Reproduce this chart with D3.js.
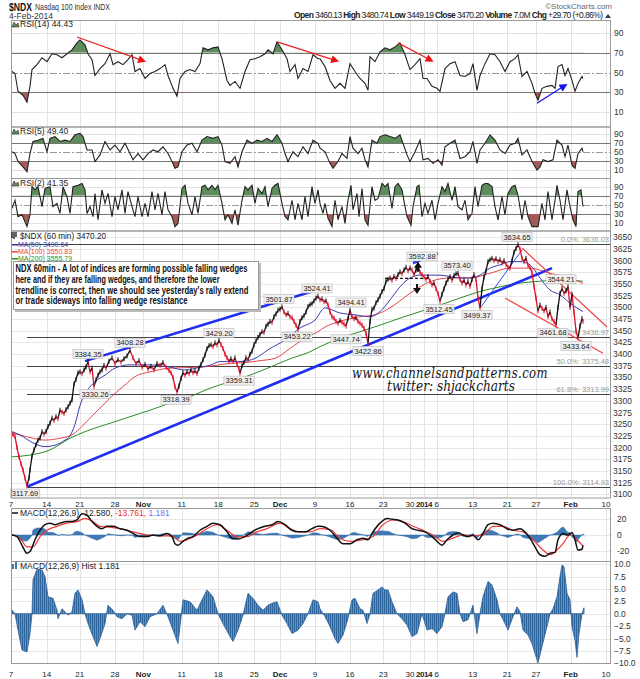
<!DOCTYPE html>
<html><head><meta charset="utf-8">
<script src="https://cdnjs.cloudflare.com/ajax/libs/d3/7.8.5/d3.min.js"></script>
<style>
html,body{margin:0;padding:0;background:#fff;}
</style></head><body>
<svg id="chart" width="640" height="679" font-family="Liberation Sans, Arial, sans-serif"></svg>
<script>
// ---------------- DATA (bar = hourly bar index since 7 Oct 2013) ----------------
const dateTickLabels=["7","14","21","28","Nov","11","18","25","Dec","9","16","23","30","2014","6","13","21","27","Feb","10"];
const dateTickBars=[0,35.7,68.7,104,132.3,170.7,207.3,243.3,269,304,339,372.3,399,413,425.7,461.7,496.3,525,559.7,595];
const boldTickLabels=["Nov","Dec","2014","Feb"];

const priceBars=[0,2,4,6,8,10,12,14,16,18,19,21,23,25,27,29,31,33,35,37,39,41,43,45,47,49,51,53,55,57,59,61,63,65,67,69,71,73,75,77,79,81,83,85,87,89,91,93,95,98,101,104,107,110,113,116,119,122,125,128,131,134,137,140,143,146,149,152,155,158,160,162,164,166,168,170,172,174,176,178,180,182,184,186,188,190,192,194,196,198,200,202,204,206,208,210,212,214,216,218,220,222,224,226,228,229,231,233,235,237,239,241,243,245,247,249,251,253,255,257,259,261,263,265,267,269,271,273,275,277,279,281,283,285,287,289,291,293,295,297,299,301,303,305,307,309,311,313,315,317,319,321,323,325,327,329,331,333,335,337,339,341,343,345,347,349,351,353,355,357,359,361,363,365,367,369,371,373,375,377,379,381,383,385,387,389,391,393,395,397,399,401,403,405,407,409,411,413,415,417,419,421,423,425,427,429,431,433,435,437,439,441,443,445,447,449,451,453,455,457,459,461,463,465,467,469,471,473,475,477,479,481,483,485,487,489,491,493,495,497,499,501,503,505,507,509,511,513,515,517,519,521,523,525,527,529,531,533,535,537,539,541,543,545,547,549,551,553,555,557,559,561,563,565,567,569,571,572];
const priceVals=[3232,3228,3224,3200,3180,3165,3152,3135,3118,3135,3152,3182,3195,3206,3216,3220,3234,3229,3234,3245,3252,3263,3258,3266,3262,3280,3276,3273,3281,3287,3295,3302,3336,3346,3360,3362,3358,3366,3372,3384,3362,3370,3331,3345,3355,3362,3366,3376,3370,3385,3392,3380,3388,3383,3390,3396,3408,3392,3380,3386,3372,3378,3368,3374,3366,3380,3376,3382,3372,3365,3360,3350,3330,3319,3332,3348,3360,3355,3362,3358,3366,3360,3364,3358,3370,3378,3388,3398,3412,3418,3420,3416,3424,3420,3429,3420,3412,3400,3392,3385,3390,3384,3392,3378,3368,3359,3375,3382,3392,3388,3400,3406,3420,3428,3436,3442,3448,3446,3460,3464,3470,3468,3480,3486,3494,3496,3501,3490,3484,3487,3480,3478,3470,3462,3453,3470,3478,3482,3490,3502,3506,3508,3514,3520,3524,3516,3518,3512,3514,3505,3490,3480,3477,3470,3466,3472,3468,3464,3460,3476,3494,3480,3476,3478,3470,3466,3462,3455,3445,3423,3470,3496,3498,3510,3516,3524,3534,3540,3556,3560,3563,3558,3566,3562,3570,3576,3572,3580,3586,3578,3584,3580,3570,3580,3593,3575,3570,3565,3560,3566,3556,3548,3552,3540,3530,3513,3528,3540,3552,3560,3566,3558,3568,3572,3573,3560,3552,3558,3548,3555,3545,3560,3570,3560,3520,3499,3540,3565,3578,3598,3602,3605,3600,3604,3598,3602,3595,3600,3592,3586,3584,3600,3618,3626,3634,3625,3605,3598,3605,3590,3585,3575,3545,3520,3492,3505,3498,3492,3500,3480,3490,3475,3470,3462,3500,3530,3540,3530,3535,3544,3500,3528,3490,3450,3434,3460,3476,3470];

const ma50=[[1,3234],[9,3227],[22,3210],[34,3202],[44,3205],[54,3216],[58,3222],[64,3250],[69,3290],[74,3316],[79,3330],[84,3341],[94,3355],[104,3370],[119,3377],[139,3377],[159,3372],[174,3366],[189,3372],[199,3376],[209,3384],[229,3384],[244,3391],[259,3412],[274,3430],[289,3456],[304,3473],[314,3499],[329,3488],[344,3484],[359,3480],[369,3491],[379,3516],[389,3544],[399,3563],[409,3569],[419,3569],[429,3569],[439,3566],[449,3563],[459,3563],[469,3569],[479,3584],[489,3591],[499,3598],[509,3598],[519,3591],[529,3563],[539,3537],[549,3527],[559,3509],[572,3491]];
const ma100=[[1,3231],[9,3227],[22,3220],[34,3216],[49,3220],[61,3227],[74,3252],[84,3274],[94,3295],[104,3316],[114,3334],[124,3352],[139,3362],[159,3370],[189,3372],[219,3380],[239,3383],[249,3386],[264,3391],[279,3412],[294,3434],[307,3448],[314,3458],[329,3470],[349,3480],[364,3484],[379,3499],[399,3530],[419,3555],[439,3563],[459,3563],[479,3573],[499,3584],[519,3584],[539,3573],[559,3563],[572,3551]];
const ma200=[[0,3180],[19,3184],[39,3195],[59,3220],[79,3238],[99,3252],[119,3266],[139,3280],[159,3295],[179,3309],[199,3327],[219,3341],[239,3355],[259,3372],[279,3390],[299,3405],[309,3416],[329,3434],[349,3448],[369,3462],[389,3477],[409,3491],[429,3505],[449,3520],[469,3534],[489,3544],[509,3552],[529,3556],[549,3559],[572,3556]];

const rsi14=[[1,51],[4,49],[7,31],[12,27],[16,20],[19,36],[21,53],[26,58],[31,65],[36,61],[41,69],[46,68],[51,65],[56,69],[61,73],[66,80],[69,83],[74,78],[77,69],[81,63],[84,47],[89,54],[94,59],[99,69],[102,58],[107,61],[112,58],[117,63],[121,68],[124,51],[129,54],[134,44],[139,49],[144,51],[149,54],[154,58],[157,47],[162,34],[166,26],[169,44],[174,51],[179,53],[184,51],[189,59],[192,75],[197,73],[202,75],[207,76],[211,64],[216,42],[219,37],[224,41],[229,34],[234,51],[239,63],[244,64],[249,66],[254,69],[257,73],[262,69],[266,81],[271,73],[276,64],[279,51],[284,58],[287,44],[292,54],[297,51],[302,68],[307,64],[309,64],[314,56],[319,42],[324,34],[329,39],[334,34],[339,59],[344,51],[349,44],[354,39],[357,32],[359,66],[364,61],[369,71],[374,75],[379,73],[384,76],[389,80],[394,68],[399,53],[404,58],[409,64],[412,44],[416,44],[421,36],[426,34],[429,31],[434,54],[439,59],[444,61],[449,47],[454,46],[459,49],[462,59],[466,32],[469,47],[474,59],[479,69],[484,68],[489,61],[494,51],[499,61],[504,64],[507,68],[511,46],[516,51],[521,39],[524,29],[527,22],[531,34],[536,36],[541,37],[544,34],[547,56],[551,58],[554,47],[557,54],[561,42],[564,31],[567,39],[571,46],[572,44]];
const rsi5=[[1,51],[4,47],[7,29],[12,17],[16,6],[19,47],[22,74],[27,77],[32,81],[36,51],[39,81],[44,85],[49,74],[54,77],[59,74],[64,89],[69,92],[72,85],[76,55],[81,55],[84,29],[89,44],[94,74],[99,55],[104,66],[109,51],[114,70],[119,47],[122,33],[127,47],[132,33],[137,47],[142,55],[147,51],[152,62],[157,47],[161,29],[164,14],[167,17],[171,51],[176,66],[181,70],[186,51],[191,77],[196,85],[202,81],[207,85],[211,66],[214,29],[219,25],[224,40],[227,17],[231,51],[236,77],[241,70],[246,77],[251,74],[256,81],[261,74],[266,89],[271,70],[274,47],[277,29],[282,51],[287,40],[292,62],[297,47],[302,77],[307,70],[309,59],[314,51],[319,25],[322,14],[327,29],[331,47],[336,36],[339,85],[342,59],[347,47],[351,59],[354,33],[357,17],[361,77],[366,70],[369,85],[374,89],[379,85],[384,81],[389,89],[392,70],[396,44],[399,29],[404,51],[409,77],[412,33],[417,36],[422,25],[427,33],[431,21],[434,62],[439,70],[444,77],[449,36],[454,40],[459,51],[462,74],[466,25],[469,55],[474,70],[479,89],[484,77],[489,55],[494,47],[499,66],[504,70],[507,81],[511,44],[516,55],[521,29],[526,10],[529,17],[532,33],[537,29],[542,33],[546,77],[551,66],[554,40],[557,66],[561,21],[564,14],[567,47],[571,59],[572,51]];
const rsi2=[[1,42],[4,60],[7,24],[11,28],[16,2],[19,28],[21,90],[24,83],[27,90],[31,46],[34,86],[39,90],[42,46],[46,53],[49,31],[52,90],[56,68],[59,31],[62,90],[67,93],[71,97],[74,83],[76,31],[79,46],[82,24],[84,75],[87,17],[91,83],[94,53],[97,75],[101,24],[104,68],[107,39],[111,83],[114,31],[117,79],[121,46],[124,24],[127,68],[131,24],[134,53],[137,24],[141,79],[144,39],[147,75],[151,28],[154,79],[157,39],[161,24],[164,2],[167,9],[171,86],[174,93],[177,53],[181,28],[184,68],[187,31],[191,90],[194,93],[197,83],[201,93],[204,83],[207,93],[211,53],[214,17],[217,28],[221,9],[224,39],[227,5],[231,60],[234,90],[237,83],[241,93],[244,53],[247,86],[251,75],[254,90],[257,46],[261,86],[264,93],[267,97],[271,53],[274,24],[277,17],[281,60],[284,17],[287,53],[291,17],[294,68],[297,24],[301,90],[304,53],[307,83],[309,53],[312,31],[314,53],[317,20],[321,2],[324,60],[327,17],[331,46],[334,9],[337,60],[340,93],[342,39],[346,75],[348,24],[351,86],[354,17],[357,5],[361,90],[364,60],[367,64],[371,97],[374,90],[377,97],[381,42],[384,90],[387,97],[391,83],[394,46],[396,24],[400,5],[402,46],[406,90],[408,93],[411,24],[414,53],[417,31],[421,60],[424,17],[427,53],[431,90],[434,79],[437,97],[441,60],[444,90],[447,46],[451,39],[454,60],[457,17],[461,31],[464,90],[467,46],[471,93],[474,97],[477,97],[481,90],[484,46],[487,17],[491,68],[494,28],[497,75],[501,90],[504,93],[507,71],[511,17],[514,60],[517,24],[521,2],[524,2],[527,2],[531,53],[534,17],[537,79],[541,17],[544,60],[546,93],[549,60],[552,17],[556,83],[559,46],[562,17],[565,2],[567,79],[570,83],[572,46]];

const macdLine=[[1,0],[6,-2],[11,-13],[16,-23],[19,-21],[24,-6],[29,6],[34,13],[39,15],[44,13],[49,15],[56,17],[61,17],[66,19],[71,27],[76,25],[81,17],[86,11],[91,8],[96,11],[102,11],[109,8],[116,6],[122,2],[129,-2],[136,-2],[142,0],[149,-1],[156,2],[161,-2],[164,-11],[167,-13],[172,-8],[177,-4],[182,-2],[189,6],[196,11],[202,15],[209,13],[216,4],[221,-4],[227,-5],[234,-2],[241,4],[247,8],[254,11],[261,13],[267,17],[274,13],[281,6],[287,4],[294,4],[301,8],[307,11],[309,11],[319,6],[326,-4],[332,-11],[339,-11],[346,-6],[352,-4],[357,-6],[362,4],[369,15],[376,21],[381,20],[387,19],[394,15],[401,8],[407,6],[414,4],[421,-2],[426,-8],[431,-13],[436,-6],[442,0],[447,3],[452,0],[457,-2],[462,0],[467,-6],[472,2],[477,13],[482,15],[489,13],[496,8],[502,6],[509,8],[514,4],[519,-4],[524,-15],[529,-25],[534,-27],[539,-23],[544,-22],[547,-6],[552,2],[557,0],[561,3],[564,-6],[567,-19],[571,-18],[572,-13]];
const macdSignal=[[1,0],[9,-4],[16,-15],[22,-15],[29,-2],[36,6],[46,11],[56,15],[66,17],[74,21],[82,17],[89,11],[99,10],[109,8],[122,4],[136,0],[149,-1],[161,-1],[169,-8],[176,-6],[186,0],[196,8],[206,13],[216,6],[226,-2],[236,-2],[246,4],[256,8],[269,15],[279,8],[289,4],[299,4],[309,8],[319,7],[329,-4],[339,-8],[352,-6],[362,-2],[372,13],[382,19],[392,17],[402,11],[412,6],[422,0],[432,-8],[442,-4],[452,0],[462,-1],[472,0],[482,11],[492,11],[502,6],[512,4],[522,-6],[532,-19],[539,-25],[546,-19],[552,-11],[559,0],[566,-6],[572,-14]];
const macdHist=[[1,0.7],[4,0],[7,-3.3],[11,-7.3],[16,-7.7],[19,-4],[21,0],[22,6.8],[26,9],[31,8.8],[34,7.5],[37,3.4],[42,3.1],[46,0.7],[47,-1],[51,1],[54,0.4],[57,-0.3],[61,0.4],[64,4.1],[67,4.8],[71,2.8],[74,0],[77,-2],[82,-4.6],[86,-6.6],[89,-5],[94,-2],[97,1.7],[102,0.7],[106,-0.6],[111,-1],[116,0],[121,-0.3],[124,-3.3],[129,-1.6],[134,-2.6],[139,-0.6],[146,0],[152,1.7],[157,-0.6],[162,-3.3],[167,-6],[172,2.8],[179,2.4],[186,0.7],[191,2.8],[196,4.8],[202,3.4],[207,0],[212,-2],[219,-4.6],[222,-5.6],[227,-3.3],[232,-0.3],[237,4.1],[242,3.1],[247,1.7],[252,0.7],[257,1.7],[261,2.1],[266,2.4],[271,-0.3],[276,-2],[281,-4],[287,-3.3],[292,-2],[297,0],[302,2.8],[307,2.4],[309,1],[314,-0.6],[319,-2.6],[324,-5],[327,-6],[332,-4.3],[337,-1],[341,2.8],[344,3.1],[349,1],[352,0.7],[356,-2],[359,0],[362,4.1],[367,4.8],[371,5.4],[374,4.8],[377,4.8],[381,2.4],[386,0],[391,-1],[396,-2.3],[401,-4.6],[406,-4],[411,0],[416,-3.3],[421,-3],[426,-4],[431,-2.6],[434,0],[437,3.4],[442,4.4],[446,4.1],[449,0],[452,-1.6],[457,-1.2],[462,1.7],[466,-4],[469,0],[472,3.4],[477,6.5],[481,5.8],[486,2.8],[489,0],[494,-2],[497,-3.3],[502,-0.6],[506,1.4],[509,0.4],[512,-3.3],[517,-4.3],[521,-6],[524,-8],[527,-9.9],[531,-6.6],[536,-2.6],[539,0],[542,1],[546,3.4],[549,7.5],[551,9.8],[553,9.5],[556,4.1],[559,2.8],[561,-2.6],[564,-5.4],[566,-8.8],[568,-4],[571,0],[573,1.2]];

// swing labels: [bar, value, 'H' high / 'L' low]
const swingLabels=[[14,3117.69,"L"],[84,3330.26,"L"],[77,3384.35,"H"],[119,3408.28,"H"],[165,3318.39,"L"],[208,3429.20,"H"],[228,3359.31,"L"],[268,3501.87,"H"],[286,3453.22,"L"],[306,3524.41,"H"],[340,3494.41,"H"],[335,3447.74,"L"],[357,3422.86,"L"],[411,3592.88,"H"],[428,3512.45,"L"],[446,3573.40,"H"],[466,3499.37,"L"],[506,3634.65,"H"],[550,3544.21,"H"],[542,3461.68,"L"],[565,3433.64,"L"]];

const fibLevels=[3636.03,3436.97,3375.48,3313.99,3114.93];
const fibPercents=["0.0%","38.2%","50.0%","61.8%","100.0%"];
const fibStartBar=16;

const blueThickLines=[[[74,3385],[319,3546]],[[16,3116],[541,3584]],[[402,3595],[427,3616]]];
const blueThinLines=[[[470,3501],[511,3623]]];
const redLines=[[[511,3627],[596,3458]],[[494,3520],[592,3402]]];
const dashedLevel=[[374,3562],[419,3562]];
const rsiArrows=[{from:[66,86],to:[129,63],c:"#f02020"},{from:[266,81],to:[322,63],c:"#f02020"},{from:[387,80],to:[417,64],c:"#f02020"},{from:[526,19],to:[551,35],c:"#1010f0"}];

const noteLines=["NDX 60min - A lot of indices are forming possible falling wedges","here and if they are falling wedges, and therefore the lower","trendline is correct, then we should see yesterday's rally extend","or trade sideways into falling wedge resistance"];
const rsiLevels=[10,30,50,70,90];
const priceTicks=d3.range(3100,3651,25);
const macdTicks=[-20,0,20];
const histTicks=d3.range(-10,10.01,2.5);

// ---------------- DRAW ----------------
const svg=d3.select("#chart");
const L=11,R=611;
const x=d3.scaleLinear().domain([0,600]).range([L,R]);
const panels={
  rsi14:{top:20,bottom:126.5,y:d3.scaleLinear().domain([0,100]).range([121.9,23.15])},
  rsi5:{top:126.5,bottom:178,y:d3.scaleLinear().domain([0,100]).range([174.5,129.9])},
  rsi2:{top:178,bottom:230.5,y:d3.scaleLinear().domain([0,100]).range([227.5,182.1])},
  main:{top:230.5,bottom:497.5,y:d3.scaleLinear().domain([3100,3650]).range([494.3,237.3])},
  macd:{top:508,bottom:561,y:d3.scaleLinear().domain([-20,20]).range([550.8,519.2])},
  hist:{top:561,bottom:663,y:d3.scaleLinear().domain([-10,10]).range([663.3,564.1])}
};
const defs=svg.append("defs");
Object.entries(panels).forEach(([k,p])=>{
  defs.append("clipPath").attr("id","clip-"+k).append("rect").attr("x",L).attr("y",p.top).attr("width",R-L).attr("height",p.bottom-p.top);
});
const pat=defs.append("pattern").attr("id","stripes").attr("patternUnits","userSpaceOnUse").attr("width",2).attr("height",10);
pat.append("rect").attr("width",2).attr("height",10).attr("fill","#5a94c8");
pat.append("rect").attr("width",1).attr("height",10).attr("fill","#2d659c");
defs.append("marker").attr("id","arrRed").attr("viewBox","0 0 10 10").attr("refX",2).attr("refY",5)
  .attr("markerWidth",11).attr("markerHeight",8).attr("markerUnits","userSpaceOnUse").attr("orient","auto")
  .append("path").attr("d","M0,0 L10,5 L0,10 z").attr("fill","#f01010");
defs.append("marker").attr("id","arrBlue").attr("viewBox","0 0 10 10").attr("refX",2).attr("refY",5)
  .attr("markerWidth",11).attr("markerHeight",8).attr("markerUnits","userSpaceOnUse").attr("orient","auto")
  .append("path").attr("d","M0,0 L10,5 L0,10 z").attr("fill","#1010f0");

Object.entries(panels).forEach(([k,p])=>{
  svg.append("g").selectAll("line").data(dateTickBars).join("line")
    .attr("x1",d=>Math.round(x(d))+0.5).attr("x2",d=>Math.round(x(d))+0.5)
    .attr("y1",p.top).attr("y2",p.bottom).attr("stroke","#e4e4e4").attr("stroke-width",1);
});
[["main",priceTicks],["hist",histTicks],["macd",macdTicks]].forEach(([k,ticks])=>{
  const yy=panels[k].y;
  svg.append("g").selectAll("line").data(ticks).join("line")
    .attr("x1",L).attr("x2",R).attr("y1",d=>Math.round(yy(d))+0.5).attr("y2",d=>Math.round(yy(d))+0.5)
    .attr("stroke","#e8e8e8");
});

[["rsi14",rsi14],["rsi5",rsi5],["rsi2",rsi2]].forEach(([k,data])=>{
  const p=panels[k], y=p.y;
  const g=svg.append("g");
  rsiLevels.forEach(l=>{
    const yy=Math.round(y(l))+0.5;
    const ln=g.append("line").attr("x1",L).attr("x2",R).attr("y1",yy).attr("y2",yy);
    if(l===30||l===70) ln.attr("stroke","#777").attr("stroke-width",1);
    else if(l===50) ln.attr("stroke","#999").attr("stroke-dasharray","7,2,2,2");
    else ln.attr("stroke","#e2e2e2");
  });
  const cid="c-"+k;
  defs.append("clipPath").attr("id",cid+"a").append("rect").attr("x",L).attr("y",p.top).attr("width",R-L).attr("height",y(70)-p.top);
  defs.append("clipPath").attr("id",cid+"b").append("rect").attr("x",L).attr("y",y(30)).attr("width",R-L).attr("height",p.bottom-y(30));
  g.append("path").datum(data).attr("clip-path",`url(#${cid}a)`).attr("fill","#5e8d5c")
    .attr("d",d3.area().x(d=>x(d[0])).y0(y(70)).y1(d=>y(d[1])));
  g.append("path").datum(data).attr("clip-path",`url(#${cid}b)`).attr("fill","#a35b58")
    .attr("d",d3.area().x(d=>x(d[0])).y0(y(30)).y1(d=>y(d[1])));
  g.append("path").datum(data).attr("fill","none").attr("stroke","#222").attr("stroke-width",1.1)
    .attr("clip-path",`url(#clip-${k})`).attr("d",d3.line().x(d=>x(d[0])).y(d=>y(d[1])));
  rsiLevels.forEach(l=>{
    svg.append("text").attr("x",614).attr("y",y(l)+3).attr("font-size",8.5).attr("fill","#333").text(l);
  });
});
rsiArrows.forEach(a=>{
  const y=panels.rsi14.y;
  svg.append("line").attr("x1",x(a.from[0])).attr("y1",y(a.from[1])).attr("x2",x(a.to[0])).attr("y2",y(a.to[1]))
    .attr("stroke",a.c).attr("stroke-width",1.2).attr("marker-end",a.c==="#1010f0"?"url(#arrBlue)":"url(#arrRed)");
});

const pm=panels.main, ym=pm.y;
const gm=svg.append("g").attr("clip-path","url(#clip-main)");
fibLevels.forEach((f,i)=>{
  const yy=Math.round(ym(f))+0.5;
  gm.append("line").attr("x1",i===0?L:x(fibStartBar)).attr("x2",R).attr("y1",yy).attr("y2",yy).attr("stroke","#444").attr("stroke-width",1);
  gm.append("text").attr("x",609).attr("y",yy-2.5).attr("text-anchor","end").attr("font-size",7.5).attr("fill","#999")
    .text(fibPercents[i]+": "+d3.format(".2f")(f));
});
[[ma200,"#2c8c2c"],[ma100,"#e8454a"],[ma50,"#3b3bb0"]].forEach(([d,c])=>{
  gm.append("path").datum(d).attr("fill","none").attr("stroke",c).attr("stroke-width",1)
    .attr("d",d3.line().x(e=>x(e[0])).y(e=>ym(e[1])).curve(d3.curveMonotoneX));
});
blueThickLines.forEach(l=>gm.append("line").attr("x1",x(l[0][0])).attr("y1",ym(l[0][1])).attr("x2",x(l[1][0])).attr("y2",ym(l[1][1])).attr("stroke","#1f2ff0").attr("stroke-width",2.6));
blueThinLines.forEach(l=>gm.append("line").attr("x1",x(l[0][0])).attr("y1",ym(l[0][1])).attr("x2",x(l[1][0])).attr("y2",ym(l[1][1])).attr("stroke","#3050f0").attr("stroke-width",1));
redLines.forEach(l=>gm.append("line").attr("x1",x(l[0][0])).attr("y1",ym(l[0][1])).attr("x2",x(l[1][0])).attr("y2",ym(l[1][1])).attr("stroke","#f04545").attr("stroke-width",1.2));
gm.append("line").attr("x1",x(dashedLevel[0][0])).attr("x2",x(dashedLevel[1][0])).attr("y1",ym(dashedLevel[0][1])).attr("y2",ym(dashedLevel[1][1]))
  .attr("stroke","#111").attr("stroke-width",1.4).attr("stroke-dasharray","3,2");
const pts=priceBars.map((b,i)=>[b,priceVals[i]]);
gm.append("g").selectAll("line").data(d3.pairs(pts)).join("line")
  .attr("x1",d=>x(d[0][0])).attr("y1",d=>ym(d[0][1])).attr("x2",d=>x(d[1][0])).attr("y2",d=>ym(d[1][1]))
  .attr("stroke",d=>d[1][1]>=d[0][1]?"#111":"#e0102a").attr("stroke-width",1.3);
gm.append("g").selectAll("line").data(pts).join("line")
  .attr("x1",d=>x(d[0])).attr("x2",d=>x(d[0])).attr("y1",d=>ym(d[1])-2.5).attr("y2",d=>ym(d[1])+2.5)
  .attr("stroke",(d,i)=>i>0&&d[1]<pts[i-1][1]?"#e0102a":"#111").attr("stroke-width",1);
const up=[407,3589], dn=[406,3537];
gm.append("path").attr("d",`M${x(up[0])-4},${ym(up[1])+2} L${x(up[0])},${ym(up[1])-4} L${x(up[0])+4},${ym(up[1])+2} Z M${x(up[0])-1},${ym(up[1])+2} h2 v4 h-2 Z`).attr("fill","#111");
gm.append("path").attr("d",`M${x(dn[0])-4},${ym(dn[1])-2} L${x(dn[0])},${ym(dn[1])+4} L${x(dn[0])+4},${ym(dn[1])-2} Z M${x(dn[0])-1},${ym(dn[1])-2} h2 v-4 h-2 Z`).attr("fill","#111");
swingLabels.forEach(s=>{
  const cx=x(s[0]), cy=ym(s[1])+(s[2]==="H"?-7.5:7.5);
  const t=svg.append("text").attr("x",cx).attr("y",cy+2.7).attr("text-anchor","middle").attr("font-size",7.5).attr("fill","#222").text(d3.format(".2f")(s[1]));
  const bb=t.node().getBBox();
  svg.insert("rect",()=>t.node()).attr("x",bb.x-1.5).attr("y",cy-4.5).attr("width",bb.width+3).attr("height",9)
    .attr("fill","#f0f0f0").attr("stroke","#b8b8b8").attr("stroke-width",0.6);
});
svg.append("text").attr("x",450).attr("y",378).attr("text-anchor","middle").attr("font-family","DejaVu Serif")
  .attr("font-style","italic").attr("font-size",14).attr("fill","#151515").attr("letter-spacing",0.5)
  .attr("textLength",196).attr("lengthAdjust","spacingAndGlyphs").text("www.channelsandpatterns.com");
svg.append("text").attr("x",451).attr("y",391).attr("text-anchor","middle").attr("font-family","DejaVu Serif")
  .attr("font-style","italic").attr("font-size",14).attr("fill","#151515")
  .attr("textLength",128).attr("lengthAdjust","spacingAndGlyphs").text("twitter: shjackcharts");
svg.append("rect").attr("x",15).attr("y",263).attr("width",246).attr("height",49).attr("fill","#bbb");
svg.append("rect").attr("x",13.5).attr("y",261.5).attr("width",245).attr("height",48).attr("fill","#fff").attr("stroke","#999");
const noteWidths=[232,204,233,172];
noteLines.forEach((t,i)=>{
  svg.append("text").attr("x",15.5).attr("y",272+i*10.8).attr("font-family","Liberation Sans Narrow, Liberation Sans")
    .attr("font-weight","bold").attr("font-size",10.5).attr("fill","#111")
    .attr("textLength",noteWidths[i]).attr("lengthAdjust","spacingAndGlyphs").text(t);
});
priceTicks.forEach(v=>svg.append("text").attr("x",613).attr("y",ym(v)+3).attr("font-size",8.5).attr("fill","#333").text(v));

const pc=panels.macd, yc=pc.y;
const gc=svg.append("g").attr("clip-path","url(#clip-macd)");
gc.append("path").datum(macdHist).attr("fill","#3e7ab6").attr("stroke","#2f68a3").attr("stroke-width",0.5)
  .attr("d",d3.area().x(d=>x(d[0])).y0(yc(0)).y1(d=>yc(d[1])));
gc.append("path").datum(macdSignal).attr("fill","none").attr("stroke","#f03a3a").attr("stroke-width",1.2)
  .attr("d",d3.line().x(d=>x(d[0])).y(d=>yc(d[1])).curve(d3.curveMonotoneX));
gc.append("path").datum(macdLine).attr("fill","none").attr("stroke","#111").attr("stroke-width",1.5)
  .attr("d",d3.line().x(d=>x(d[0])).y(d=>yc(d[1])).curve(d3.curveMonotoneX));
macdTicks.forEach(v=>svg.append("text").attr("x",617).attr("y",yc(v)+3).attr("font-size",8.5).attr("fill","#333").text(v));

const ph=panels.hist, yh=ph.y;
const gh=svg.append("g").attr("clip-path","url(#clip-hist)");
gh.append("path").datum(macdHist).attr("fill","url(#stripes)").attr("stroke","#2a5e96").attr("stroke-width",0.8)
  .attr("d",d3.area().x(d=>x(d[0])).y0(yh(0)).y1(d=>yh(d[1])));
histTicks.forEach(v=>svg.append("text").attr("x",614).attr("y",yh(v)+3).attr("font-size",8.5).attr("fill","#333").text(d3.format(".1f")(v)));

Object.values(panels).forEach(p=>{
  svg.append("rect").attr("x",L+0.5).attr("y",p.top+0.5).attr("width",R-L-1).attr("height",p.bottom-p.top).attr("fill","none").attr("stroke","#9a9a9a").attr("stroke-width",1);
});

[503.5,673.5].forEach(yy=>{
  dateTickLabels.forEach((lab,i)=>{
    svg.append("text").attr("x",x(dateTickBars[i])).attr("y",yy+3).attr("text-anchor","middle").attr("font-size",8)
      .attr("font-weight",boldTickLabels.includes(lab)?"bold":"normal").attr("fill","#222")
      .attr("letter-spacing",lab==="2014"?-0.4:0).text(lab);
  });
});

svg.append("text").attr("x",9).attr("y",10.5).attr("font-size",11).attr("font-weight","bold").attr("fill","#111")
  .attr("textLength",23).attr("lengthAdjust","spacingAndGlyphs").text("$NDX");
svg.append("text").attr("x",35).attr("y",9.5).attr("font-size",8.5).attr("fill","#333")
  .attr("textLength",75).attr("lengthAdjust","spacingAndGlyphs").text("Nasdaq 100 Index INDX");
svg.append("text").attr("x",9).attr("y",18.5).attr("font-size",8.5).attr("fill","#333").text("4-Feb-2014");
svg.append("text").attr("x",612).attr("y",9).attr("text-anchor","end").attr("font-size",8).attr("fill","#666").text("©StockCharts.com");
const hdr=svg.append("text").attr("x",294).attr("y",18).attr("font-size",8.5).attr("fill","#222").attr("textLength",309).attr("lengthAdjust","spacing");
[["Open",1],[" 3460.13 ",0],["High",1],[" 3480.74 ",0],["Low",1],[" 3449.19 ",0],["Close",1],[" 3470.20 ",0],["Volume",1],[" 7.0M ",0],["Chg",1],[" +29.70 (+0.86%)",0]]
  .forEach(([t,b])=>hdr.append("tspan").attr("font-weight",b?"bold":"normal").text(t));
svg.append("path").attr("d","M605,18 L608,14 L611,18 Z").attr("fill","#335");

function icon(xx,yy,c){svg.append("path").attr("d",`M${xx},${yy} l2,-5 l2,3 l2,-2 l1,4 z`).attr("fill",c).attr("stroke","#111").attr("stroke-width",0.5);}
const lab=(xx,yy,t,fs)=>svg.append("text").attr("x",xx).attr("y",yy).attr("font-size",fs||8.5).attr("fill","#222").text(t);
icon(12,27,"#5e8d5c"); lab(20,27,"RSI(14) 44.43");
icon(12,134,"#5e8d5c"); lab(20,134,"RSI(5) 49.40");
icon(12,186,"#5e8d5c"); lab(20,186,"RSI(2) 41.35");
svg.append("path").attr("d","M12,238 v-6 M14,239 v-7 M16,237 v-5").attr("stroke","#111").attr("stroke-width",1.3);
lab(20,238.5,"$NDX (60 min) 3470.20",8.2);
[["MA(50) 3490.64","#3b3bb0",247.3],["MA(100) 3550.83","#e8454a",254.3],["MA(200) 3555.79","#2c8c2c",261.3]].forEach(([t,c,yy])=>{
  svg.append("line").attr("x1",12).attr("x2",18).attr("y1",yy-2.5).attr("y2",yy-2.5).attr("stroke",c).attr("stroke-width",1.5);
  svg.append("text").attr("x",18).attr("y",yy).attr("font-size",7).attr("fill",c).text(t);
});
svg.append("line").attr("x1",12).attr("x2",18).attr("y1",513).attr("y2",513).attr("stroke","#111").attr("stroke-width",1.5);
const mt=svg.append("text").attr("x",20).attr("y",516).attr("font-size",8.5);
mt.append("tspan").attr("fill","#222").text("MACD(12,26,9) -12.580, ");
mt.append("tspan").attr("fill","#f02a2a").text("-13.761, ");
mt.append("tspan").attr("fill","#7070f0").text("1.181");
svg.append("rect").attr("x",12).attr("y",564).attr("width",2).attr("height",5).attr("fill","#3e7ab6");
svg.append("rect").attr("x",15).attr("y",562).attr("width",2).attr("height",7).attr("fill","#3e7ab6");
lab(20,569,"MACD(12,26,9) Hist 1.181");
</script>
</body></html>
